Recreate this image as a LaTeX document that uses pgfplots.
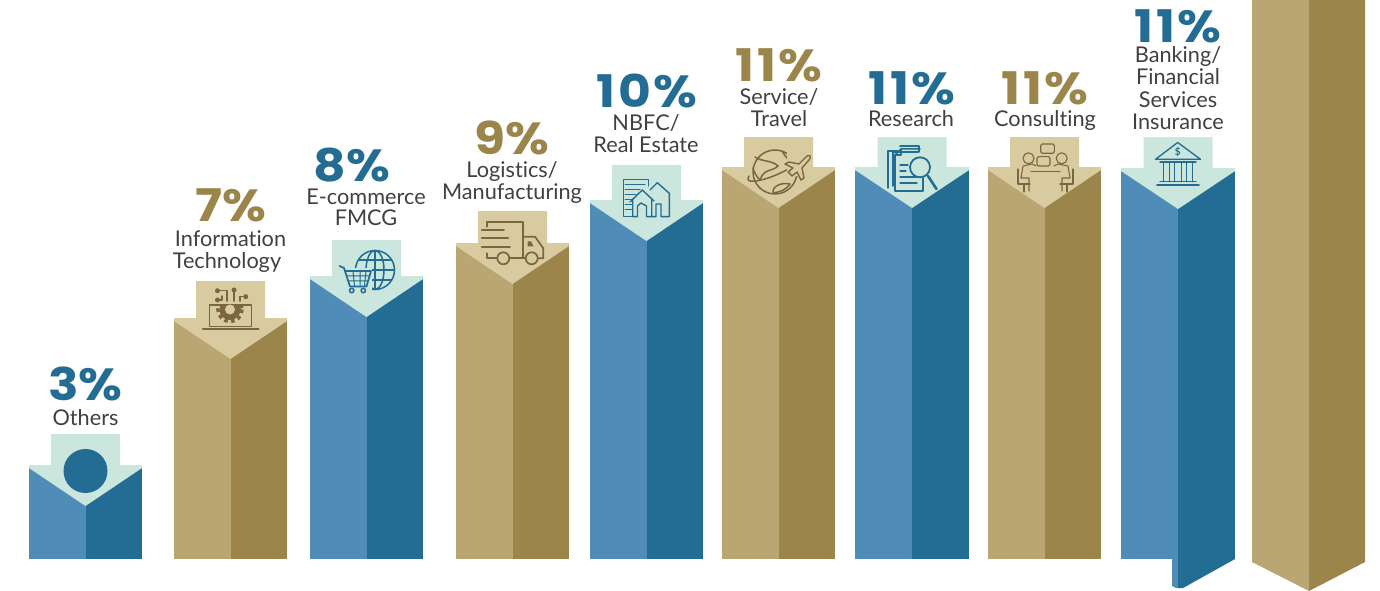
\documentclass[border=0pt]{standalone}
\usepackage{pgfplots}
\pgfplotsset{compat=1.18}
\usepackage{fontspec}
\setmainfont{Lato}[Ligatures=NoCommon]
\newfontfamily\pctfont{Poppins}[FakeStretch=1.12]
\newfontfamily\pctwide{Poppins}[FakeStretch=1.12,LetterSpace=6]

\definecolor{blueL}{HTML}{4F8DB8}
\definecolor{blueD}{HTML}{236C93}
\definecolor{blueP}{HTML}{CBE6DD}
\definecolor{goldL}{HTML}{B9A672}
\definecolor{goldD}{HTML}{9B854B}
\definecolor{goldP}{HTML}{D9CBA0}
\definecolor{goldI}{HTML}{7A6640}
\definecolor{txt}{HTML}{404040}

% left, right, top, top of the arrow shaft, light face, dark face, cap
\newcommand\prism[7]{%
  \pgfmathsetmacro\cx{(#1+#2)/2}%
  \pgfmathsetmacro\sl{\cx-34.5}%
  \pgfmathsetmacro\sr{\cx+34.5}%
  \pgfmathsetmacro\ap{#3+41}%
  \pgfmathsetmacro\sh{#3+3}%
  \addplot[fill=#5,draw=none] coordinates {(#1,#3) (\cx,#3) (\cx,559) (#1,559)} -- cycle;
  \addplot[fill=#6,draw=none] coordinates {(\cx,#3) (#2,#3) (#2,559) (\cx,559)} -- cycle;
  \addplot[fill=#7,draw=none] coordinates {(#1,#3) (\sl,#3) (\sl,#4) (\sr,#4) (\sr,#3) (#2,#3) (#2,\sh) (\cx,\ap) (#1,\sh)} -- cycle;
}
\newcommand\pct[4]{\node[anchor=base,inner sep=0pt,text=#4] at (axis cs:#1,#2) {\pctfont\fontsize{45}{45}\selectfont\bfseries #3};}
\newcommand\pctw[4]{\node[anchor=base,inner sep=0pt,text=#4] at (axis cs:#1,#2) {\pctwide\fontsize{45}{45}\selectfont\bfseries #3};}
\newcommand\lab[3]{\node[anchor=base,inner sep=0pt,text=txt] at (axis cs:#1,#2) {\fontsize{21.7}{22}\selectfont #3};}

\begin{document}
\begin{tikzpicture}
\useasboundingbox (0,0) rectangle (1380pt,591pt);
\begin{axis}[
    scale only axis,
    width=1380pt,
    height=591pt,
    xmin=0, xmax=1380,
    ymin=0, ymax=591,
    y dir=reverse,
    hide axis,
    no markers,
    cycle list={{black}},
    ]
\prism{29}{142}{465}{434}{blueL}{blueD}{blueP}
\prism{174}{287}{318}{281}{goldL}{goldD}{goldP}
\prism{310}{423}{276}{240}{blueL}{blueD}{blueP}
\prism{456}{569}{243}{211}{goldL}{goldD}{goldP}
\prism{590}{703}{200}{165}{blueL}{blueD}{blueP}
\prism{722}{835}{167}{137}{goldL}{goldD}{goldP}
\prism{855}{969}{167}{137}{blueL}{blueD}{blueP}
\prism{988}{1101}{167}{137}{goldL}{goldD}{goldP}
\prism{1121}{1235}{168}{137}{blueL}{blueD}{blueP}
% the two shapes that run past the baseline
\addplot[fill=blueL,draw=none] coordinates {(1172,559) (1178,559) (1178,588) (1176,588) (1172,586)} -- cycle;
\addplot[fill=blueD,draw=none] coordinates {(1178,559) (1235,559) (1183,588) (1178,588)} -- cycle;
\addplot[fill=goldL,draw=none] coordinates {(1252,0) (1309,0) (1309,591) (1252,562)} -- cycle;
\addplot[fill=goldD,draw=none] coordinates {(1309,0) (1365,0) (1365,562) (1309,591)} -- cycle;

\pct{85.5}{400}{3\%}{blueD}
\pct{231}{221}{7\%}{goldD}
\pct{352}{181}{8\%}{blueD}
\pct{512}{154}{9\%}{goldD}
\pctw{647}{107}{10\%}{blueD}
\pctw{779}{82}{11\%}{goldD}
\pctw{912}{105}{11\%}{blueD}
\pctw{1045}{105}{11\%}{goldD}
\pctw{1178}{43}{11\%}{blueD}

\lab{85.5}{425}{Others}
\lab{230.5}{246}{Information}
\lab{227}{268}{Technology}
\lab{366}{204}{E-commerce}
\lab{366}{225}{FMCG}
\lab{512}{177}{Logistics/}
\lab{512}{199}{Manufacturing}
\lab{646}{130}{NBFC/}
\lab{646}{152}{Real Estate}
\lab{779}{105}{Service/}
\lab{779}{127}{Travel}
\lab{911}{126}{Research}
\lab{1045}{126}{Consulting}
\lab{1178}{63}{Banking/}
\lab{1178}{85}{Financial}
\lab{1178}{107}{Services}
\lab{1178}{129}{Insurance}
\end{axis}

% icons, in picture pixels from the top left
\begin{scope}[x=1pt,y=-1pt,yshift=591pt,line cap=round,line join=round]
\fill[blueD] (85.5,471) circle[radius=22];

% laptop and gear
\begin{scope}[draw=goldI,line width=1.6pt]
\draw (209.5,305) rectangle (251.5,326.5);
\draw[line width=2.2pt] (203,328.7) -- (258.5,328.7);
\begin{scope}
\clip (209.5,305) rectangle (251.5,326.5);
\fill[goldI] (230,309.5) circle[radius=10.5];
\draw[line width=3.6pt,dash pattern=on 3.6pt off 3.4pt,line cap=butt] (230,309.5) circle[radius=12];
\fill[goldP] (230,309.5) circle[radius=5];
\end{scope}
\draw (219,290.7) -- (226.7,290.7) -- (226.7,301);
\draw (234,292) -- (234,301);
\draw (243.5,296.7) -- (240,296.7) -- (240,301);
\draw (219,300) -- (222,300) -- (222,296);
\fill[goldI] (217.5,290.7) circle[radius=2.5] (234,290) circle[radius=2.5] (245.7,296.7) circle[radius=2.5] (217.5,300) circle[radius=2.5];
\end{scope}

% globe and cart
\begin{scope}[draw=blueD,line width=1.5pt]
\draw (375,270) circle[radius=19.5];
\draw (375,270) ellipse[x radius=9,y radius=19.5];
\draw (375,250.5) -- (375,289.5) (355.5,270) -- (394.5,270);
\draw (358.5,260) -- (391.5,260) (358.5,280) -- (391.5,280);
\fill[blueP] (343,268) rectangle (372,293);
\draw[line width=1.7pt] (339.5,266) -- (344,268) -- (350,286.5) -- (366.5,286.5) -- (371,271) -- (345,271);
\draw[line width=1pt] (346,276) -- (369.5,276) (348,281) -- (368,281) (353,271) -- (354.5,286) (360,271) -- (360,286) (366,271) -- (364.5,286);
\draw (351.7,290.5) circle[radius=2.2] (363.3,290.5) circle[radius=2.2];
\end{scope}

% truck
\begin{scope}[draw=goldI,line width=1.7pt]
\draw (486.7,226.7) -- (486.7,221.7) -- (523.3,221.7) -- (523.3,258.3) -- (509.5,258.3);
\draw (523.3,236.7) -- (535,236.7) -- (543.3,248.3) -- (543.3,258.3) -- (538,258.3);
\draw (525.5,258.3) -- (523.3,258.3);
\draw (503.3,258.3) circle[radius=6] (531.7,258.3) circle[radius=6];
\draw (481.7,230) -- (504,230) (481.7,238.3) -- (508.3,238.3) (481.7,247.3) -- (510,247.3);
\draw (486.7,253.3) -- (486.7,258.3) -- (497.3,258.3);
\fill[goldI] (527.5,241.5) -- (531,241.5) -- (533.5,246.5) -- (527.5,246.5) -- cycle;
\end{scope}

% buildings
\begin{scope}[draw=blueD,line width=1.4pt]
\draw (648.3,186) -- (648.3,179.3) -- (623.3,179.3) -- (623.3,216.7) -- (632.7,216.7);
\draw[line width=1pt] (625,185) -- (645,185) (625,190) -- (640,190) (625,195) -- (636,195) (625,200) -- (632,200) (625,205) -- (632,205) (625,210) -- (632,210);
\draw (630,202) -- (642.3,190) -- (654,201);
\draw (632.7,199) -- (632.7,216.7) -- (637.5,216.7) -- (637.5,206) -- (641,203) -- (646.5,206) -- (646.5,216.7) -- (651.7,216.7) -- (651.7,199);
\draw (650,190) -- (657.3,182.7) -- (669.3,193.3) -- (669.3,216.7) -- (661,216.7) -- (661,204) -- (656,204) -- (656,216.7) -- (651.7,216.7);
\end{scope}

% globe and plane
\begin{scope}[draw=goldI,line width=1.5pt]
\draw (775,172) circle[radius=22];
\draw (755,157) .. controls (762,162) and (772,160) .. (778,166) .. controls (772,172) and (764,168) .. (760,180) .. controls (756,176) and (754,172) .. (753,168);
\draw (782,151) .. controls (786,158) and (790,160) .. (792,166);
\draw (773,193) .. controls (772,186) and (782,182) .. (790,184) .. controls (786,190) and (780,192) .. (773,193);
\draw (749,176) .. controls (745,183) and (754,182) .. (765,179) .. controls (775,176) and (783,172) .. (790,168);
\fill[goldP] (787,152) -- (811,152) -- (811,176) -- (787,176) -- cycle;
\draw[line width=1.4pt] (788,172) -- (793,168) -- (785,164) -- (789,162) -- (799,164) -- (807,156) .. controls (811,154) and (811,158) .. (809,160) -- (802,168) -- (804,178) -- (801,180) -- (797,172) -- (792,176) -- cycle;
\end{scope}

% documents and magnifier
\begin{scope}[draw=blueD,line width=1.5pt]
\draw (888,188) -- (888,151) -- (898,151);
\draw (893,186) -- (893,152) -- (918,152);
\draw (900,146) -- (919,146) -- (919,152);
\draw (895,155) -- (895,191) -- (923,191) -- (923,178);
\draw (895,155) -- (901,149) -- (920,149);
\draw (901,149) -- (901,155) -- (895,155);
\draw[line width=1.1pt] (900,165) -- (908,165) (900,171) -- (906,171) (900,177) -- (917,177) (900,183) -- (917,183);
\fill[blueP] (920,167.3) circle[radius=10];
\draw[line width=1.8pt] (920,167.3) circle[radius=10];
\draw[line width=2.6pt] (928,176) -- (936.5,189);
\end{scope}

% meeting
\begin{scope}[draw=goldI,line width=1.1pt]
\draw[rounded corners=1.5pt] (1040.7,144) rectangle (1054.3,153.3);
\draw[rounded corners=1.5pt] (1037,156.7) rectangle (1050,166);
\draw (1028.5,158.3) circle[radius=5.5] (1061.7,158.3) circle[radius=5.5];
\draw (1031,171.5) -- (1060,171.5);
\draw (1036,166) -- (1032,164) -- (1023,166) -- (1021,178) -- (1029,178) -- (1029,191);
\draw (1054,166) -- (1058,164) -- (1068,166) -- (1070,178) -- (1062,178) -- (1062,191);
\draw (1018,169) -- (1018,184) -- (1030,184) (1024,184) -- (1024,192);
\draw (1073,169) -- (1073,184) -- (1060,184) (1067,184) -- (1067,192);
\end{scope}

% bank
\begin{scope}[draw=blueD,line width=1.3pt]
\draw (1155.5,159.3) -- (1177.7,142.5) -- (1200.5,159.3) -- cycle;
\node[text=blueD,inner sep=0pt] at (1177.7,151.5) {\fontsize{10}{10}\selectfont\bfseries\$};
\draw (1160,162) -- (1196,162) (1160,181.7) -- (1196,181.7);
\draw (1163.3,162) -- (1163.3,181.7) (1169.3,162) -- (1169.3,181.7);
\draw (1174.5,162) -- (1174.5,181.7) (1181.5,162) -- (1181.5,181.7);
\draw (1186.5,162) -- (1186.5,181.7) (1192.5,162) -- (1192.5,181.7);
\draw[line width=1.7pt] (1157,185) -- (1199,185);
\end{scope}
\end{scope}
\end{tikzpicture}
\end{document}
